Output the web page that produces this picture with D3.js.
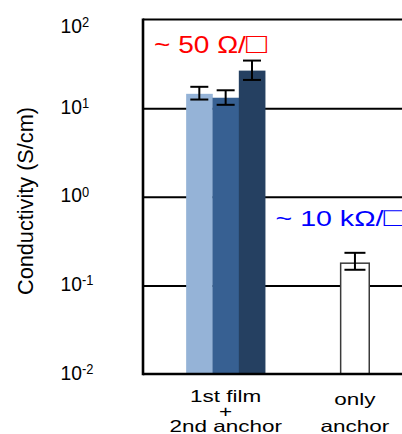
<!DOCTYPE html>
<html>
<head>
<meta charset="utf-8">
<script src="https://cdn.jsdelivr.net/npm/d3@7"></script>
<style>
  html, body { margin: 0; padding: 0; background: #fff; }
  svg { display: block; font-family: "Liberation Sans", Arial, sans-serif; }
</style>
</head>
<body>
<svg id="chart" width="402" height="434"></svg>
<script>
// ----------------------------------------------------------------------------
// Data
// ----------------------------------------------------------------------------

var categories = ["1st film + 2nd anchor", "only anchor"];
var categoryLines = [["1st film", "+", "2nd anchor"], ["only", "", "anchor"]];

// Three samples on top of the first category
var filmSamples = ["s1", "s2", "s3"];
var filmValues = [14.5, 13.1, 26.5];
var filmErrLow = [12.5, 10.9, 20.8];
var filmErrHigh = [17.4, 15.9, 34.4];
var filmColors = ["#95b3d7", "#376092", "#254061"];

// Single sample for the second category
var anchorValue = 0.178;
var anchorErrLow = 0.150;
var anchorErrHigh = 0.233;

var yTicks = [0.01, 0.1, 1, 10, 100];
var yExponents = ["-2", "-1", "0", "1", "2"];

var yLabel = "Conductivity (S/cm)";
var noteFilm = "~ 50 \u03A9/";
var noteAnchor = "~ 10 k\u03A9/";
var squareSign = "\u25A1";

// ----------------------------------------------------------------------------
// Chart
// ----------------------------------------------------------------------------

function drawChart() {
    var svg = d3.select("#chart");
    var plotLeft = 143, plotTop = 19.5, plotBottom = 374, plotRight = 420;

    var y = d3.scaleLog().domain([0.01, 100]).range([plotBottom, plotTop]);
    var x = d3.scaleBand().domain(categories).range([161, 419.6]).padding(0);

    // gridlines at each decade
    svg.append("g")
        .attr("transform", "translate(" + plotLeft + ",0)")
        .call(d3.axisRight(y).tickValues([0.1, 1, 10]).tickSize(plotRight - plotLeft).tickFormat(""))
        .call(function(g) { g.select(".domain").remove(); })
        .selectAll("line")
        .attr("stroke", "#000")
        .attr("stroke-width", 2);

    // top frame line
    svg.append("line")
        .attr("x1", plotLeft).attr("x2", plotRight)
        .attr("y1", y(100)).attr("y2", y(100))
        .attr("stroke", "#000").attr("stroke-width", 2);

    // bars for the first category
    var groupCenter = x(categories[0]) + x.bandwidth() / 2;
    var inner = d3.scaleBand().domain(filmSamples)
        .range([groupCenter - 39.5, groupCenter + 39.5]).padding(0);

    svg.append("g").selectAll("rect")
        .data(filmValues)
        .join("rect")
        .attr("x", function(d, i) { return inner(filmSamples[i]); })
        .attr("width", inner.bandwidth() + 0.3)
        .attr("y", function(d) { return y(d); })
        .attr("height", function(d) { return plotBottom - y(d); })
        .attr("fill", function(d, i) { return filmColors[i]; });

    // bar for the second category
    var anchorCenter = x(categories[1]) + x.bandwidth() / 2;
    svg.append("rect")
        .attr("x", anchorCenter - 14.3)
        .attr("width", 28.6)
        .attr("y", y(anchorValue))
        .attr("height", plotBottom - y(anchorValue))
        .attr("fill", "#fff")
        .attr("stroke", "#3a3a3a")
        .attr("stroke-width", 1.5);

    // error bars
    function errorBar(cx, lo, hi, cap) {
        var g = svg.append("g").attr("stroke", "#000").attr("stroke-width", 2);
        g.append("line").attr("x1", cx).attr("x2", cx).attr("y1", y(lo)).attr("y2", y(hi));
        g.append("line").attr("x1", cx - cap / 2).attr("x2", cx + cap / 2).attr("y1", y(lo)).attr("y2", y(lo));
        g.append("line").attr("x1", cx - cap / 2).attr("x2", cx + cap / 2).attr("y1", y(hi)).attr("y2", y(hi));
    }
    filmValues.forEach(function(d, i) {
        errorBar(inner(filmSamples[i]) + inner.bandwidth() / 2, filmErrLow[i], filmErrHigh[i], 18);
    });
    errorBar(anchorCenter, anchorErrLow, anchorErrHigh, 21);

    // left spine and bottom axis line
    svg.append("line")
        .attr("x1", plotLeft).attr("x2", plotLeft)
        .attr("y1", plotTop - 1).attr("y2", plotBottom + 1.3)
        .attr("stroke", "#000").attr("stroke-width", 2.6);
    svg.append("line")
        .attr("x1", plotLeft).attr("x2", plotRight)
        .attr("y1", plotBottom).attr("y2", plotBottom)
        .attr("stroke", "#000").attr("stroke-width", 2.7);

    // y tick labels: 10 with superscript exponent
    var yAxis = svg.append("g")
        .attr("transform", "translate(" + plotLeft + ",0)")
        .call(d3.axisLeft(y).tickValues(yTicks).tickSize(0).tickFormat(""));
    yAxis.select(".domain").remove();
    yAxis.selectAll(".tick").each(function(d, i) {
        var base = Math.max(5, 32 - y(d));
        var t = d3.select(this).append("text")
            .attr("transform", "translate(-82.5," + base + ") scale(0.92,1)")
            .attr("fill", "#000")
            .attr("text-anchor", "start")
            .style("font-size", "21px");
        t.append("tspan").text("10");
        t.append("tspan")
            .attr("dy", -5.5)
            .style("font-size", "14px")
            .text(yExponents[i]);
    });

    // y axis title
    svg.append("text")
        .attr("transform", "translate(32.5,201) rotate(-90)")
        .attr("text-anchor", "middle")
        .style("font-size", "21.7px")
        .text(yLabel);

    // category labels
    svg.append("g").selectAll("g")
        .data(categories)
        .join("g")
        .attr("transform", function(d) { return "translate(" + (x(d) + x.bandwidth() / 2) + ",0)"; })
        .each(function(d, i) {
            d3.select(this).selectAll("text")
                .data(categoryLines[i])
                .join("text")
                .attr("transform", function(s, j) {
                    return "translate(0," + (402 + j * 15 + (i == 1 && j == 0 ? 2.5 : 0)) + ") scale(1.38,1)";
                })
                .attr("text-anchor", "middle")
                .style("font-size", "16.3px")
                .text(function(s) { return s; });
        });

    // sheet resistance notes
    var red = svg.append("text")
        .attr("transform", "translate(154,52.5) scale(1.22,1)")
        .attr("fill", "#ff0000")
        .style("font-size", "23px");
    red.append("tspan").text(noteFilm);
    red.append("tspan").style("font-size", "29px").text(squareSign);

    var blue = svg.append("text")
        .attr("transform", "translate(275.5,226) scale(1.33,1)")
        .attr("fill", "#0000ff")
        .style("font-size", "21.5px");
    blue.append("tspan").text(noteAnchor);
    blue.append("tspan").style("font-size", "26px").text(squareSign);
}

drawChart();
</script>
</body>
</html>
